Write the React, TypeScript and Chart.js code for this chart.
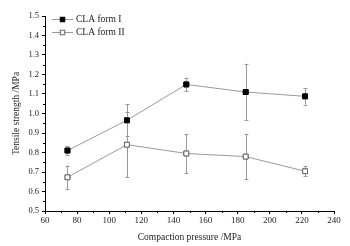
import React, { useEffect, useRef } from "react";
import { Chart, registerables } from "chart.js";

Chart.register(...registerables);

const pressures = [74, 111, 148, 185, 222];
const formI = [0.81, 0.965, 1.149, 1.11, 1.088];
const formIErr = [0.022, 0.082, 0.035, 0.145, 0.043];
const formII = [0.673, 0.84, 0.795, 0.779, 0.704];
const formIIErr = [0.06, 0.167, 0.1, 0.115, 0.025];
const seriesLabels = ["CLA form I", "CLA form II"];
const xTitle = "Compaction pressure /MPa";
const yTitle = "Tensile strength /MPa";

const FONT = "'Liberation Serif', 'Times New Roman', serif";
const LINE = "#9a9a9a";

const errorBarsPlugin = {
  id: "errorBars",
  afterDatasetsDraw(chart: any) {
    const ctx = chart.ctx;
    const xs = chart.scales.x;
    const ys = chart.scales.y;
    const errs = [formIErr, formIIErr];
    ctx.save();
    ctx.strokeStyle = LINE;
    ctx.lineWidth = 1;
    chart.data.datasets.forEach((ds: any, di: number) => {
      ds.data.forEach((p: any, i: number) => {
        const e = errs[di][i];
        const px = Math.round(xs.getPixelForValue(p.x)) + 0.5;
        const top = ys.getPixelForValue(p.y + e);
        const bot = ys.getPixelForValue(p.y - e);
        ctx.beginPath();
        ctx.moveTo(px, top);
        ctx.lineTo(px, bot);
        ctx.moveTo(px - 2, Math.round(top) + 0.5);
        ctx.lineTo(px + 2, Math.round(top) + 0.5);
        ctx.moveTo(px - 2, Math.round(bot) + 0.5);
        ctx.lineTo(px + 2, Math.round(bot) + 0.5);
        ctx.stroke();
      });
    });
    chart.data.datasets.forEach((_: any, di: number) => {
      const meta = chart.getDatasetMeta(di);
      meta.data.forEach((el: any) => el.draw(ctx, chart.chartArea));
    });
    ctx.restore();
  },
};

const minorTicksPlugin = {
  id: "minorTicks",
  afterDraw(chart: any) {
    const ctx = chart.ctx;
    const xs = chart.scales.x;
    const ys = chart.scales.y;
    const area = chart.chartArea;
    ctx.save();
    ctx.strokeStyle = "#000";
    ctx.lineWidth = 1;
    ctx.beginPath();
    for (let v = 70; v < 240; v += 20) {
      const px = Math.round(xs.getPixelForValue(v)) + 0.5;
      ctx.moveTo(px, area.bottom);
      ctx.lineTo(px, area.bottom + 2);
    }
    for (let k = 0; k < 10; k++) {
      const v = 0.55 + k * 0.1;
      const py = Math.round(ys.getPixelForValue(v)) + 0.5;
      ctx.moveTo(area.left, py);
      ctx.lineTo(area.left - 2, py);
    }
    ctx.stroke();
    ctx.restore();
  },
};

const legendPlugin = {
  id: "customLegend",
  afterDraw(chart: any) {
    const ctx = chart.ctx;
    ctx.save();
    const rows = [19, 32];
    chart.data.datasets.forEach((ds: any, i: number) => {
      const y = rows[i] + 0.5;
      ctx.strokeStyle = LINE;
      ctx.lineWidth = 1;
      ctx.beginPath();
      ctx.moveTo(52, y);
      ctx.lineTo(73, y);
      ctx.stroke();
      ctx.fillStyle = ds.pointBackgroundColor;
      ctx.strokeStyle = ds.pointBorderColor;
      const s = 4.5;
      ctx.fillRect(62.5 - s / 2, y - s / 2, s, s);
      ctx.strokeRect(62.5 - s / 2, y - s / 2, s, s);
      ctx.fillStyle = "#222";
      ctx.font = `9.5px ${FONT}`;
      ctx.textBaseline = "middle";
      ctx.textAlign = "left";
      ctx.fillText(ds.label, 76, y);
    });
    ctx.restore();
  },
};

export default function App() {
  const ref = useRef<HTMLCanvasElement>(null);
  useEffect(() => {
    document.body.style.margin = "0";
    const c = ref.current!;
    const chart = new Chart(c, {
      type: "line",
      data: {
        datasets: [
          {
            label: seriesLabels[0],
            data: pressures.map((x, i) => ({ x, y: formI[i] })),
            borderColor: LINE,
            borderWidth: 1,
            pointStyle: "rect",
            pointRadius: 3.4,
            pointBackgroundColor: "#000",
            pointBorderColor: "#000",
            pointBorderWidth: 1,
            fill: false,
          },
          {
            label: seriesLabels[1],
            data: pressures.map((x, i) => ({ x, y: formII[i] })),
            borderColor: LINE,
            borderWidth: 1,
            pointStyle: "rect",
            pointRadius: 3.4,
            pointBackgroundColor: "#fff",
            pointBorderColor: "#666",
            pointBorderWidth: 1,
            fill: false,
          },
        ],
      },
      options: {
        responsive: false,
        animation: false,
        layout: { padding: { top: 16, right: 16, left: 11, bottom: 3 } },
        plugins: { legend: { display: false }, tooltip: { enabled: false } },
        scales: {
          x: {
            type: "linear",
            min: 60,
            max: 240,
            ticks: { stepSize: 20, color: "#222", font: { family: FONT, size: 9 }, padding: 1, maxRotation: 0 },
            grid: { drawOnChartArea: false, drawTicks: true, tickLength: 3, color: "#000" },
            border: { color: "#000", width: 1 },
            title: { display: true, text: xTitle, color: "#222", font: { family: FONT, size: 9.5 }, padding: { top: 4, bottom: 0 } },
            afterFit: (s: any) => { s.height = 32; },
          },
          y: {
            type: "linear",
            min: 0.5,
            max: 1.5,
            ticks: { stepSize: 0.1, color: "#222", font: { family: FONT, size: 8.5 }, padding: 3, callback: (v: any) => Number(v).toFixed(1) },
            grid: { drawOnChartArea: false, drawTicks: true, tickLength: 3, color: "#000" },
            border: { color: "#000", width: 1 },
            title: { display: true, text: yTitle, color: "#222", font: { family: FONT, size: 9.5 }, padding: { top: 0, bottom: 4 } },
            afterFit: (s: any) => { s.width = 34; },
          },
        },
      },
      plugins: [errorBarsPlugin, minorTicksPlugin, legendPlugin],
    } as any);
    return () => chart.destroy();
  }, []);
  return (
    <div style={{ position: "absolute", left: 0, top: 0, width: 350, height: 246, background: "#fff" }}>
      <canvas ref={ref} width={350} height={246} />
    </div>
  );
}
